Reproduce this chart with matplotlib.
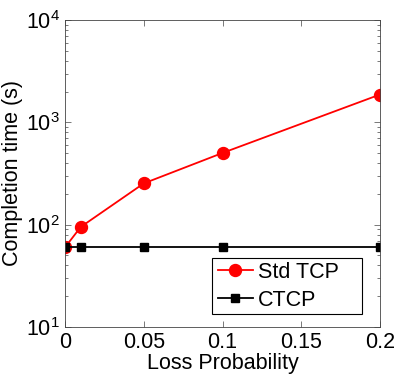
import matplotlib
matplotlib.use("Agg")
import matplotlib.pyplot as plt
from matplotlib.ticker import LogLocator
from matplotlib.patches import Rectangle

plt.rcParams['font.family'] = ['Liberation Sans', 'DejaVu Sans']

loss = [0, 0.01, 0.05, 0.1, 0.2]
std_tcp = [60, 95, 253, 502, 1870]
ctcp = [60, 60, 60, 60, 60]
xticks = [0, 0.05, 0.1, 0.15, 0.2]
xticklabels = ['0', '0.05', '0.1', '0.15', '0.2']

fig = plt.figure(figsize=(3.99, 3.76), dpi=100)
ax = fig.add_axes([65/399, 1-327/376, (380-65)/399, (327-20)/376])

ax.plot(loss, std_tcp, color='red', marker='o', markersize=8.6, linewidth=1.3, label='Std TCP')
ax.plot(loss, ctcp, color='black', marker='s', markersize=6, linewidth=1.3, label='CTCP')

ax.set_yscale('log')
ax.set_ylim(10, 1e4)
ax.set_xlim(0, 0.2)
ax.set_xticks(xticks)
ax.set_xticklabels(xticklabels)
ax.yaxis.set_major_locator(LogLocator(base=10, numticks=10))
ax.yaxis.set_minor_locator(LogLocator(base=10, subs=range(2, 10), numticks=10))
ax.tick_params(which='both', direction='in', top=True, right=True, labelsize=15.5, width=0.5, colors='#444444', labelcolor='black')
ax.tick_params(which='major', length=4)
ax.tick_params(which='minor', length=2)
ax.tick_params(axis='x', which='minor', bottom=False, top=False)
for s in ax.spines.values():
    s.set_linewidth(0.6)
    s.set_color('#444444')

ax.set_xlabel('Loss Probability', fontsize=15.5, labelpad=0)
ax.set_ylabel('Completion time (s)', fontsize=15.5, labelpad=2)

# MATLAB-style legend box (wider than content)
box = Rectangle((0.467, 0.042), 0.943 - 0.467, 0.225 - 0.042, transform=ax.transAxes,
                facecolor='white', edgecolor='black', linewidth=0.8, zorder=4)
ax.add_patch(box)
leg = ax.legend(loc='center left', fontsize=15.5, frameon=False,
                borderpad=0, handlelength=1.6, handletextpad=0.25, labelspacing=0.32,
                borderaxespad=0, bbox_to_anchor=(0.486, 0.132))
leg.set_zorder(5)

fig.savefig('out.png', dpi=100)
